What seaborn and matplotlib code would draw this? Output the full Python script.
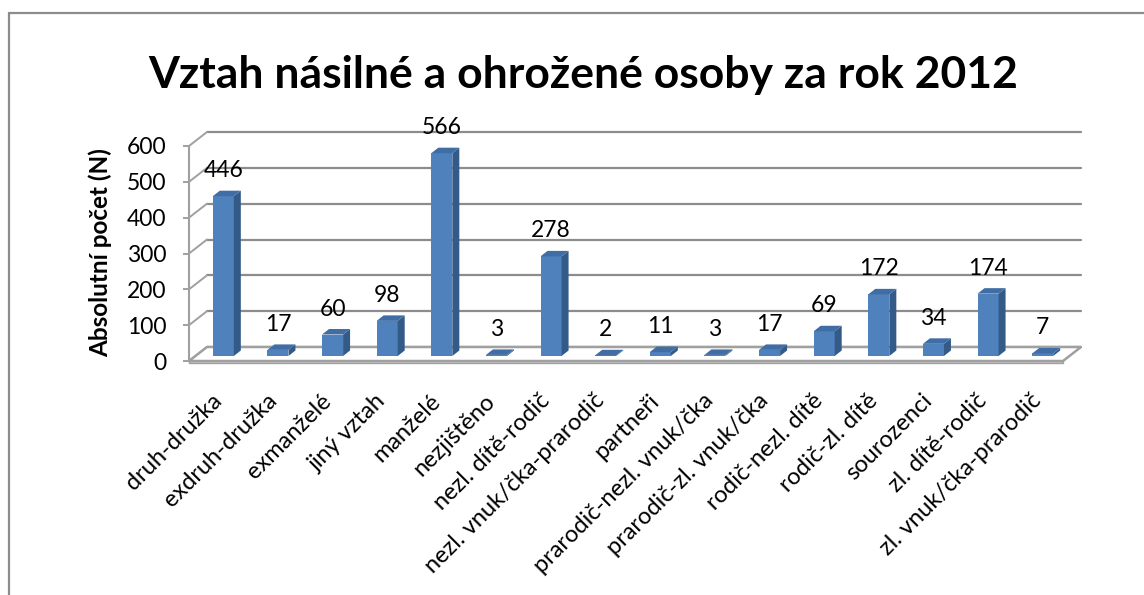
import numpy as np
import pandas as pd
import matplotlib
matplotlib.use("Agg")
import matplotlib.pyplot as plt
import seaborn as sns
from matplotlib.transforms import ScaledTranslation
from matplotlib.patches import Polygon
from matplotlib.lines import Line2D

categories = ["druh-družka", "exdruh-družka", "exmanželé", "jiný vztah", "manželé",
              "nezjištěno", "nezl. dítě-rodič", "nezl. vnuk/čka-prarodič", "partneři",
              "prarodič-nezl. vnuk/čka", "prarodič-zl. vnuk/čka", "rodič-nezl. dítě",
              "rodič-zl. dítě", "sourozenci", "zl. dítě-rodič", "zl. vnuk/čka-prarodič"]
values = [446, 17, 60, 98, 566, 3, 278, 2, 11, 3, 17, 69, 172, 34, 174, 7]
yticks = [0, 100, 200, 300, 400, 500, 600]
title = "Vztah násilné a ohrožené osoby za rok 2012"
ylabel = "Absolutní počet (N)"

sns.set_theme(style="white")
plt.rcParams["font.family"] = ["Lato", "DejaVu Sans"]

W, H = 1144, 595
fig = plt.figure(figsize=(W / 100, H / 100), dpi=100)
ax = fig.add_axes([189 / W, (H - 361) / H, (1063 - 189) / W, 215 / H])

df = pd.DataFrame({"cat": categories, "val": values})
sns.barplot(data=df, x="cat", y="val", color="#4F81BD", width=0.385,
            saturation=1, ax=ax, zorder=3, linewidth=0)
ax.set_xlim(-0.5, len(categories) - 0.5)
ax.set_ylim(0, 600)
ax.set_xlabel("")
ax.set_ylabel("")
for s in ["top", "right", "bottom"]:
    ax.spines[s].set_visible(False)
ax.spines["left"].set_color("#A0A0A0")
ax.spines["left"].set_linewidth(1.5)

GRID = "#8C8C8C"
WALL = (18, 14)   # back wall offset in px
BAR = (7, 5)      # bar shift in px
DEPTH = (7, 5.5)  # bar depth in px


def shift(x, y, dx, dy):
    p = ax.transData.transform((x, y)) + np.array([dx, dy])
    return ax.transData.inverted().transform(p)


x0, x1 = ax.get_xlim()
# back wall gridlines and left wall diagonals
for v in yticks:
    a = shift(x0, v, *WALL)
    b = shift(x1, v, *WALL)
    ax.plot([a[0], b[0]], [a[1], b[1]], color=GRID, lw=1.6, clip_on=False, zorder=1)
    ax.plot([x0, a[0]], [v, a[1]], color="#A0A0A0", lw=1.4, clip_on=False, zorder=1)

# floor
fl = [shift(x0, 0, 0, 0), shift(x1, 0, 0, 0), shift(x1, 0, *WALL), shift(x0, 0, *WALL)]
ax.add_patch(Polygon(fl, closed=True, facecolor="white", edgecolor="#A0A0A0",
                     lw=1.8, clip_on=False, zorder=1.5))
f2 = [shift(x0, 0, 0, 0), shift(x1, 0, 0, 0), shift(x1, 0, 0, -2), shift(x0, 0, 0, -2)]
ax.add_patch(Polygon(f2, closed=True, facecolor="#C8C8C8", edgecolor="#A0A0A0",
                     lw=1.0, clip_on=False, zorder=1.5))

# 3D bars
bars = list(ax.patches)[: len(values)]
for p in bars:
    bx, bw, bh = p.get_x(), p.get_width(), p.get_height()
    fl_ = shift(bx, 0, *BAR)
    fr_ = shift(bx + bw, 0, *BAR)
    tr_ = shift(bx + bw, bh, *BAR)
    tl_ = shift(bx, bh, *BAR)
    p.set_xy(fl_)
    p.set_width(fr_[0] - fl_[0])
    p.set_y(fl_[1])
    p.set_height(tl_[1] - fl_[1])
    p.set_clip_on(False)
    br_ = shift(bx + bw, 0, BAR[0] + DEPTH[0], BAR[1] + DEPTH[1])
    btr = shift(bx + bw, bh, BAR[0] + DEPTH[0], BAR[1] + DEPTH[1])
    btl = shift(bx, bh, BAR[0] + DEPTH[0], BAR[1] + DEPTH[1])
    ax.add_patch(Polygon([fr_, br_, btr, tr_], closed=True, facecolor="#345A88",
                         edgecolor="none", clip_on=False, zorder=3))
    ax.add_patch(Polygon([tl_, tr_, btr, btl], closed=True, facecolor="#3F6DA4",
                         edgecolor="none", clip_on=False, zorder=3))

# value labels
for i, v in enumerate(values):
    ax.annotate(str(v), xy=(i, v), xytext=(BAR[0] * 0.72, (BAR[1] + 15) * 0.72),
                textcoords="offset points", ha="center", va="bottom",
                fontsize=16.5, color="black", annotation_clip=False)

# y ticks
ax.set_yticks(yticks)
ax.set_yticklabels([str(t) for t in yticks], fontsize=16.5, color="black")
ax.tick_params(axis="y", length=4.3, width=1.4, color="#A0A0A0", pad=12, left=True)

# x ticks
ax.set_xticks(range(len(categories)))
ax.set_xticklabels(categories, rotation=45, ha="right", va="top",
                   rotation_mode="anchor", fontsize=17, color="black")
ax.tick_params(axis="x", length=0, pad=21)
for lbl in ax.get_xticklabels():
    lbl.set_transform(lbl.get_transform() + ScaledTranslation(-5 / 100, 0, fig.dpi_scale_trans))

# title and y label
fig.text(583 / W, 1 - 88 / H, title, ha="center", va="baseline",
         fontsize=32, fontweight="bold", color="black")
fig.text(100 / W, 1 - 253 / H, ylabel, rotation=90, ha="center", va="center",
         fontsize=17.5, fontweight="bold", color="black")

# chart border
fig.add_artist(Line2D([8.5 / W, 8.5 / W], [0, 1 - 12.5 / H], transform=fig.transFigure,
                      color="#8C8C8C", lw=1.6))
fig.add_artist(Line2D([8.5 / W, 1], [1 - 12.5 / H, 1 - 12.5 / H], transform=fig.transFigure,
                      color="#8C8C8C", lw=1.6))

fig.savefig("out.png", dpi=100)
